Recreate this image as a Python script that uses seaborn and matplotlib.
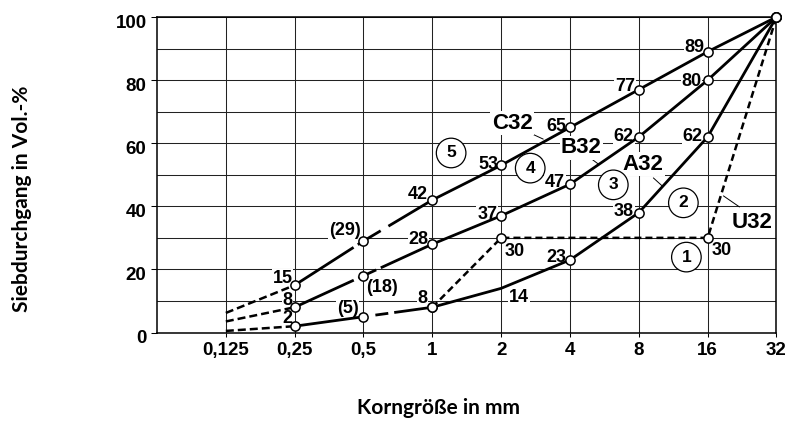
import numpy as np
import pandas as pd
import matplotlib
matplotlib.use("Agg")
import matplotlib.pyplot as plt
import matplotlib.transforms as mtransforms
from matplotlib.ticker import NullLocator
import seaborn as sns

# ---------------- data ----------------
sizes = [0.125, 0.25, 0.5, 1, 2, 4, 8, 16, 32]
size_labels = ["0,125", "0,25", "0,5", "1", "2", "4", "8", "16", "32"]
a32 = [0.5, 2, 5, 8, 14, 23, 38, 62, 100]
b32 = [3.5, 8, 18, 28, 37, 47, 62, 80, 100]
c32 = [6.2, 15, 29, 42, 53, 65, 77, 89, 100]
u32_sizes = [1, 2, 16, 32]
u32 = [8, 30, 30, 100]
a32_text = [None, "2", "(5)", "8", "14", "23", "38", "62", None]
b32_text = [None, "8", "(18)", "28", "37", "47", "62", "80", None]
c32_text = [None, "15", "(29)", "42", "53", "65", "77", "89", None]
u32_text = [None, "30", "30", None]
a32_marked = [False, True, True, True, False, True, True, True, True]
b32_marked = [False, True, True, True, True, True, True, True, True]
c32_marked = [False, True, True, True, True, True, True, True, True]
y_ticks = [0, 20, 40, 60, 80, 100]
y_minor = [10, 30, 50, 70, 90]
curve_names = ["A32", "B32", "C32", "U32"]
zone_numbers = ["1", "2", "3", "4", "5"]

curves = {"A32": a32, "B32": b32, "C32": c32}
marks = {"A32": a32_marked, "B32": b32_marked, "C32": c32_marked}
texts = {"A32": a32_text, "B32": b32_text, "C32": c32_text}

rows = []
for name, vals in curves.items():
    for s, v, m, t in zip(sizes, vals, marks[name], texts[name]):
        rows.append(dict(curve=name, size=s, pct=v, marked=m, text=t))
for s, v, t in zip(u32_sizes, u32, u32_text):
    rows.append(dict(curve="U32", size=s, pct=v, marked=True, text=t))
df = pd.DataFrame(rows)

# ---------------- style ----------------
sns.set_theme(style="white")
plt.rcParams["font.family"] = ["Liberation Sans", "DejaVu Sans"]
plt.rcParams["lines.scale_dashes"] = False
P = 0.72  # px -> pt

fig = plt.figure(figsize=(7.87, 4.22), dpi=100)
ax = fig.add_axes([157 / 787, (422 - 332.5) / 422, (776.5 - 157) / 787, (332.5 - 17) / 422])
ax.set_xscale("log", base=2)

K = "black"
LW = 2.0

def seg(d, ls, lw=LW):
    sns.lineplot(data=d, x="size", y="pct", ax=ax, color=K, lw=lw,
                 linestyle=ls, estimator=None, sort=False, zorder=3)

mid_styles = {
    "C32": [(0, (70 * P, 5 * P, 6 * P, 60 * P)), (0, (20 * P, 9 * P, 300 * P, 1))],
    "B32": [(0, (65 * P, 5 * P, 6 * P, 60 * P)), (0, (14 * P, 5 * P, 300 * P, 1))],
    "A32": ["-", (0, (4 * P, 8 * P, 13 * P, 6 * P, 300 * P, 1))],
}

for name in ["A32", "B32", "C32"]:
    d = df[df.curve == name].reset_index(drop=True)
    seg(d.iloc[0:2], (0, (8 * P, 4 * P)), lw=1.8)   # dashed tail
    seg(d.iloc[1:3], mid_styles[name][0])
    seg(d.iloc[2:4], mid_styles[name][1])
    seg(d.iloc[3:], "-")                           # solid main part

du = df[df.curve == "U32"]
seg(du, (0, (7 * P, 4 * P)), lw=1.8)

dm = df[df.marked]
sns.scatterplot(data=dm, x="size", y="pct", ax=ax, marker="o", s=44,
                facecolor="white", edgecolor=K, linewidth=1.1, zorder=5,
                clip_on=False, legend=False)

# ---------------- value labels ----------------
offsets = {
    ("C32", 0.25): ("right", -2, 7), ("C32", 0.5): ("right", -3, 11),
    ("C32", 1): ("right", -5, 5), ("C32", 2): ("right", -3, 1),
    ("C32", 4): ("right", -4, 1), ("C32", 8): ("right", -4, 3),
    ("C32", 16): ("right", -3, 4),
    ("B32", 0.25): ("right", -2, 7), ("B32", 0.5): ("left", 3, -12),
    ("B32", 1): ("right", -4, 5), ("B32", 2): ("right", -4, 1),
    ("B32", 4): ("right", -5, 2), ("B32", 8): ("right", -5, 0),
    ("B32", 16): ("right", -6, -1),
    ("A32", 0.25): ("right", -2, 8), ("A32", 0.5): ("right", -5, 8),
    ("A32", 1): ("right", -5, 9), ("A32", 2): ("left", 8, -9),
    ("A32", 4): ("right", -4, 2), ("A32", 8): ("right", -5, 1),
    ("A32", 16): ("right", -5, 0),
    ("U32", 2): ("left", 3, -14), ("U32", 16): ("left", 4, -13),
}
for _, r in df.iterrows():
    if r.text is None:
        continue
    ha, dx, dy = offsets[(r.curve, r["size"])]
    ax.annotate(r.text, (r["size"], r.pct), xytext=(dx, dy), textcoords="offset pixels",
                ha=ha, va="center", fontsize=13, fontweight="bold", color=K, zorder=2.5,
                bbox=dict(facecolor="white", edgecolor="none", pad=0.5))

def mm(idx):
    return 0.125 * 2 ** idx

# curve names with leader lines
name_pos = {"C32": (4.16, 66.4), "B32": (5.164, 58.5), "A32": (6.065, 53.4), "U32": (7.651, 35.0)}
leaders = {"C32": ((4.422, 63.2), (4.611, 61.3)), "B32": ((5.222, 56.5), (5.411, 53.4)),
           "A32": ((6.211, 49.0), (6.342, 46.4)), "U32": ((7.229, 43.3), (7.462, 39.8))}
for name in curve_names:
    (i0, v0), (i1, v1) = leaders[name]
    ax.plot([mm(i0), mm(i1)], [v0, v1], color=K, lw=0.7, zorder=2.6)
    ix, v = name_pos[name]
    ax.text(mm(ix), v, name, ha="center", va="center", fontsize=16, fontweight="bold",
            color=K, zorder=2.7, bbox=dict(facecolor="white", edgecolor="none", pad=1.0))

# circled zone numbers
zone_pos = {"1": (6.691, 23.9), "2": (6.647, 41.1), "3": (5.629, 46.8),
            "4": (4.422, 52.1), "5": (3.273, 56.9)}
for z in zone_numbers:
    ix, v = zone_pos[z]
    ax.text(mm(ix), v, z, ha="center", va="center", fontsize=12.5, fontweight="bold",
            color=K, zorder=2.7,
            bbox=dict(boxstyle="circle,pad=0.42", facecolor="white", edgecolor=K, lw=0.9))

# ---------------- axes ----------------
ax.set_xlim(0.0625, 32)
ax.set_ylim(0, 100)
ax.set_xticks(sizes)
ax.set_xticklabels(size_labels)
ax.xaxis.set_minor_locator(NullLocator())
ax.set_yticks(y_ticks)
ax.set_yticks(y_minor, minor=True)
ax.grid(True, which="both", color="#222222", lw=0.75)
ax.tick_params(axis="x", which="major", direction="out", length=3, width=0.75,
               color=K, pad=4, labelsize=13.5, bottom=True)
ax.tick_params(axis="y", which="major", direction="out", length=4, width=0.75,
               color=K, pad=3.5, labelsize=13.5, left=True)
ax.tick_params(axis="y", which="minor", length=0)
shift_down = mtransforms.ScaledTranslation(0, -4 / 100, fig.dpi_scale_trans)
for lab in ax.get_yticklabels():
    lab.set_transform(lab.get_transform() + shift_down)
for lab in ax.get_xticklabels() + ax.get_yticklabels():
    lab.set_fontweight("bold")
    lab.set_color(K)
for sp in ax.spines.values():
    sp.set_color(K)
    sp.set_linewidth(1.1)

ax.set_xlabel("Korngröße in mm", fontsize=15, fontweight="bold", family=["Lato", "DejaVu Sans"], color=K)
ax.set_ylabel("Siebdurchgang in Vol.-%", fontsize=15, fontweight="bold", family=["Lato", "DejaVu Sans"], color=K)
ax.xaxis.set_label_coords(0.455, -0.24)
ax.xaxis.label.set_va("center")
ax.yaxis.set_label_coords(-0.218, 0.425)
ax.yaxis.label.set_va("center")

fig.savefig("out.png", dpi=100, facecolor="white")
